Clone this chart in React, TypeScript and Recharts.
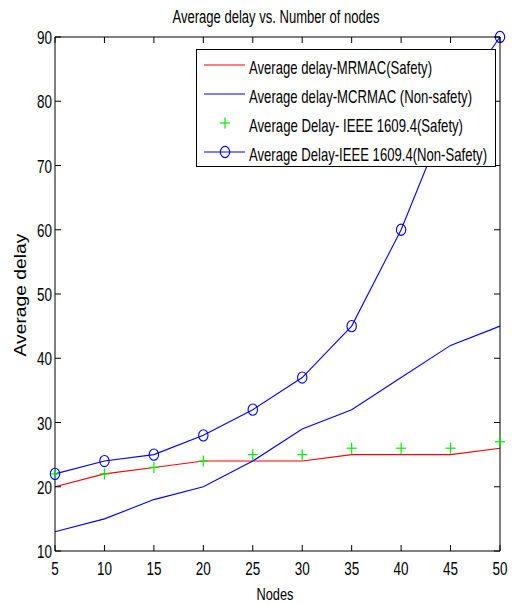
import React from 'react';
import { LineChart, Line, XAxis, YAxis, Legend, Label } from 'recharts';

const nodes = [5, 10, 15, 20, 25, 30, 35, 40, 45, 50];
const mrmacSafety = [20, 22, 23, 24, 24, 24, 25, 25, 25, 26];
const mcrmacNonSafety = [13, 15, 18, 20, 24, 29, 32, 37, 42, 45];
const ieeeSafety = [22, 22, 23, 24, 25, 25, 26, 26, 26, 27];
const ieeeNonSafety = [22, 24, 25, 28, 32, 37, 45, 60, 79, 90];
const xTicks = [5, 10, 15, 20, 25, 30, 35, 40, 45, 50];
const yTicks = [10, 20, 30, 40, 50, 60, 70, 80, 90];

const legendItems = [
  { name: 'Average delay-MRMAC(Safety)', color: '#ff0000', kind: 'line', width: 183 },
  { name: 'Average delay-MCRMAC (Non-safety)', color: '#0000ff', kind: 'line', width: 223 },
  { name: 'Average Delay- IEEE 1609.4(Safety)', color: '#00ee00', kind: 'plus', width: 214 },
  { name: 'Average Delay-IEEE 1609.4(Non-Safety)', color: '#0000ff', kind: 'circle', width: 238 },
];

const data = nodes.map((n, i) => ({
  n,
  mrmac: mrmacSafety[i],
  mcrmac: mcrmacNonSafety[i],
  ieeeS: ieeeSafety[i],
  ieeeNS: ieeeNonSafety[i],
}));

const FONT = 'Liberation Sans, Arial, sans-serif';
const TICK_LEN = 6;

const Plus = (props: any) => {
  const { cx, cy } = props;
  if (cx == null || cy == null) return null;
  return (
    <g>
      <line x1={cx - 5} x2={cx + 5} y1={cy} y2={cy} stroke="#00ee00" strokeWidth={1.2} />
      <line x1={cx} x2={cx} y1={cy - 5.5} y2={cy + 5.5} stroke="#00ee00" strokeWidth={1.2} />
    </g>
  );
};

const Circle = (props: any) => {
  const { cx, cy } = props;
  if (cx == null || cy == null) return null;
  return <ellipse cx={cx} cy={cy} rx={4.7} ry={5.6} fill="none" stroke="#0000ff" strokeWidth={1.1} />;
};

// tickSize 0 + tickMargin 0: x/y passed in are the point on the axis line itself
const BottomTick = (props: any) => {
  const { x, y, payload } = props;
  const s = String(payload.value);
  return (
    <g>
      <path d={`M${x},${y}V${y - TICK_LEN}`} stroke="#000" strokeWidth={1} fill="none" />
      <text x={x} y={y + 24} textAnchor="middle" fontSize={18.5} fontFamily={FONT} fill="#000"
        textLength={s.length * 7.5} lengthAdjust="spacingAndGlyphs">{s}</text>
    </g>
  );
};

const LeftTick = (props: any) => {
  const { x, y, payload } = props;
  const s = String(payload.value);
  return (
    <g>
      <path d={`M${x},${y}H${x + TICK_LEN}`} stroke="#000" strokeWidth={1} fill="none" />
      <text x={x - 3} y={y + 7} textAnchor="end" fontSize={18.5} fontFamily={FONT} fill="#000"
        textLength={s.length * 7.5} lengthAdjust="spacingAndGlyphs">{s}</text>
    </g>
  );
};

const TopTick = (props: any) => {
  const { x, y } = props;
  return <path d={`M${x},${y}V${y + TICK_LEN}`} stroke="#000" strokeWidth={1} fill="none" />;
};

const RightTick = (props: any) => {
  const { x, y } = props;
  return <path d={`M${x},${y}H${x - TICK_LEN}`} stroke="#000" strokeWidth={1} fill="none" />;
};

const LegendBox = () => {
  const rows = [16, 45, 74, 103];
  return (
    <svg width={300} height={118} style={{ display: 'block' }}>
      <rect x={0.5} y={0.5} width={299} height={117} fill="#fff" stroke="#000" />
      {legendItems.map((item, i) => {
        const cy = rows[i];
        return (
          <g key={item.name}>
            {item.kind !== 'plus' && (
              <line x1={8} x2={49} y1={cy} y2={cy} stroke={item.color} strokeWidth={1.1} />
            )}
            {item.kind === 'plus' && <Plus cx={29} cy={cy} />}
            {item.kind === 'circle' && <Circle cx={29} cy={cy} />}
            <text x={53} y={cy + 9} fontSize={19} fontFamily={FONT} fill="#000"
              textLength={item.width} lengthAdjust="spacingAndGlyphs">{item.name}</text>
          </g>
        );
      })}
    </svg>
  );
};

export default function App() {
  return (
    <div style={{ position: 'absolute', left: 0, top: 0, width: 512, height: 604, background: '#fff' }}>
      <LineChart width={512} height={604} data={data} margin={{ top: 36, right: 11, bottom: 0, left: 0 }}>
        <XAxis dataKey="n" type="number" domain={[5, 50]} ticks={xTicks} height={53} interval={0}
          axisLine={{ stroke: '#000' }} tickLine={false} tickSize={0} tickMargin={0} tick={<BottomTick />}>
          <Label content={() => (
            <text x={275} y={600} textAnchor="middle" fontSize={17} fontFamily={FONT} fill="#000"
              textLength={37} lengthAdjust="spacingAndGlyphs">Nodes</text>
          )} />
        </XAxis>
        <XAxis xAxisId="top" orientation="top" dataKey="n" type="number" domain={[5, 50]} ticks={xTicks} height={1} interval={0}
          allowDataOverflow axisLine={{ stroke: '#000' }} tickLine={false} tickSize={0} tickMargin={0} tick={<TopTick />}>
          <Label content={() => (
            <text x={276} y={23} textAnchor="middle" fontSize={17.5} fontFamily={FONT} fill="#000"
              textLength={207} lengthAdjust="spacingAndGlyphs">Average delay vs. Number of nodes</text>
          )} />
        </XAxis>
        <YAxis type="number" domain={[10, 90]} ticks={yTicks} width={55} interval={0}
          axisLine={{ stroke: '#000' }} tickLine={false} tickSize={0} tickMargin={0} tick={<LeftTick />}>
          <Label content={() => (
            <text x={0} y={0} transform="translate(26,295) rotate(-90)" textAnchor="middle" fontSize={16.5}
              fontFamily={FONT} fill="#000" textLength={123} lengthAdjust="spacingAndGlyphs">Average delay</text>
          )} />
        </YAxis>
        <YAxis yAxisId="right" orientation="right" type="number" domain={[10, 90]} ticks={yTicks} width={1} interval={0}
          allowDataOverflow axisLine={{ stroke: '#000' }} tickLine={false} tickSize={0} tickMargin={0} tick={<RightTick />} />
        <Line dataKey="mrmac" stroke="#ff0000" strokeWidth={1.1} dot={false} isAnimationActive={false} />
        <Line dataKey="mcrmac" stroke="#0000ff" strokeWidth={1.1} dot={false} isAnimationActive={false} />
        <Line dataKey="ieeeS" stroke="none" dot={<Plus />} activeDot={false} isAnimationActive={false} />
        <Line dataKey="ieeeNS" stroke="#0000ff" strokeWidth={1.1} dot={<Circle />} isAnimationActive={false} />
        <Legend layout="horizontal" verticalAlign="middle" align="center" content={<LegendBox />}
          wrapperStyle={{ position: 'absolute', left: 196, top: 49, width: 300, height: 118 }} />
      </LineChart>
    </div>
  );
}
